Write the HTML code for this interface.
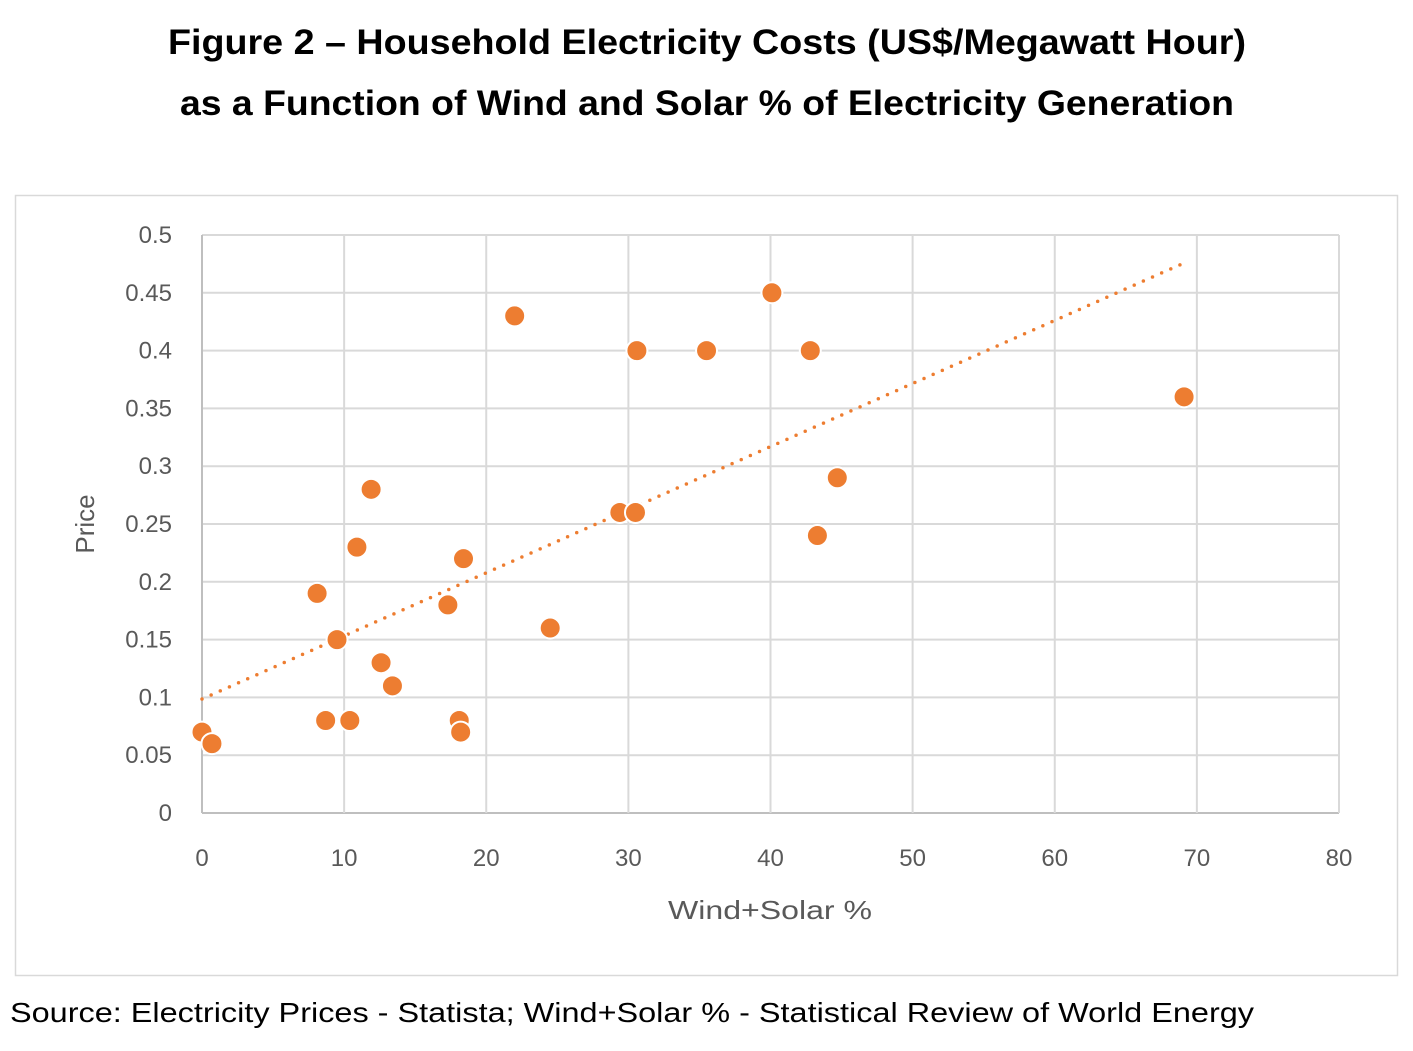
<!DOCTYPE html>
<html><head><meta charset="utf-8"><style>
html,body{margin:0;padding:0;background:#fff;}
svg{display:block;font-family:"Liberation Sans",sans-serif;}
</style></head><body>
<svg id="chart" width="1413" height="1051" viewBox="0 0 1413 1051" xmlns="http://www.w3.org/2000/svg">
<text x="707" y="54" text-anchor="middle" font-size="35" font-weight="bold" fill="#000" textLength="1078" lengthAdjust="spacingAndGlyphs">Figure 2 – Household Electricity Costs (US$/Megawatt Hour)</text>
<text x="707" y="115" text-anchor="middle" font-size="35" font-weight="bold" fill="#000" textLength="1054" lengthAdjust="spacingAndGlyphs">as a Function of Wind and Solar % of Electricity Generation</text>
<rect x="15.5" y="195.5" width="1382" height="780" fill="none" stroke="#d9d9d9" stroke-width="1.5"/>
<g id="grid"></g>
<g id="ticks"></g>
<g id="trend"></g>
<g id="points"></g>
<text transform="translate(94,524) rotate(-90)" text-anchor="middle" font-size="26" fill="#595959">Price</text>
<text x="770" y="919" text-anchor="middle" font-size="26" fill="#595959" textLength="204" lengthAdjust="spacingAndGlyphs">Wind+Solar %</text>
<text x="10" y="1022" font-size="28" fill="#000" textLength="1244" lengthAdjust="spacingAndGlyphs">Source:  Electricity Prices - Statista; Wind+Solar % - Statistical Review of World Energy</text>
</svg>
<script>
const windSolar = [0,0.7,8.1,8.7,9.5,10.4,10.9,11.9,12.6,13.4,17.3,18.1,18.2,18.4,22,24.5,29.4,30.5,30.6,35.5,40.1,42.8,43.3,44.7,69.1];
const price = [0.07,0.06,0.19,0.08,0.15,0.08,0.23,0.28,0.13,0.11,0.18,0.08,0.07,0.22,0.43,0.16,0.26,0.26,0.40,0.40,0.45,0.40,0.24,0.29,0.36];
const xTicks = [0,10,20,30,40,50,60,70,80];
const yTicks = [0,0.05,0.1,0.15,0.2,0.25,0.3,0.35,0.4,0.45,0.5];
const yTickLabels = ["0","0.05","0.1","0.15","0.2","0.25","0.3","0.35","0.4","0.45","0.5"];

const NS="http://www.w3.org/2000/svg";
const X0=202,X1=1339,Y0=813,Y1=235;
const sx=v=>X0+(v-0)/(80-0)*(X1-X0);
const sy=v=>Y0-(v-0)/(0.5-0)*(Y0-Y1);
function mk(tag,attrs,parent){const e=document.createElementNS(NS,tag);for(const k in attrs)e.setAttribute(k,attrs[k]);parent.appendChild(e);return e;}
const grid=document.getElementById('grid'),ticks=document.getElementById('ticks');
yTicks.forEach((t,i)=>{
  const l=mk('line',{x1:X0,x2:X1,y1:sy(t),y2:sy(t),stroke:t===0?'#bfbfbf':'#d9d9d9','stroke-width':2},grid);
  
  
  const tx=mk('text',{x:172,y:sy(t)+8,'text-anchor':'end','font-size':24,fill:'#595959'},ticks);
  tx.textContent=yTickLabels[i];
  
  
});
xTicks.forEach(t=>{
  const l=mk('line',{x1:sx(t),x2:sx(t),y1:Y1,y2:Y0,stroke:t===0?'#bfbfbf':'#d9d9d9','stroke-width':2},grid);
  
  
  const tx=mk('text',{x:sx(t),y:866,'text-anchor':'middle','font-size':24,fill:'#595959'},ticks);
  tx.textContent=String(t);
  
  
});
// linear regression trendline
const n=windSolar.length;
const mx=windSolar.reduce((a,b)=>a+b,0)/n, my=price.reduce((a,b)=>a+b,0)/n;
let sxy=0,sxx=0;for(let i=0;i<n;i++){sxy+=(windSolar[i]-mx)*(price[i]-my);sxx+=(windSolar[i]-mx)**2;}
const slope=sxy/sxx, icpt=my-slope*mx;
const xmin=Math.min(...windSolar), xmax=Math.max(...windSolar);
const tl=mk('line',{x1:sx(xmin),y1:sy(icpt+slope*xmin),x2:sx(xmax),y2:sy(icpt+slope*xmax),stroke:'#ED7D31','stroke-width':3.5,'stroke-dasharray':'0 10','stroke-linecap':'round'},document.getElementById('trend'));


const pts=document.getElementById('points');
windSolar.forEach((x,i)=>{
  const c=mk('circle',{cx:sx(x),cy:sy(price[i]),r:10.5,fill:'#ED7D31',stroke:'#fff','stroke-width':2},pts);
  
  
});
</script>
</body></html>
